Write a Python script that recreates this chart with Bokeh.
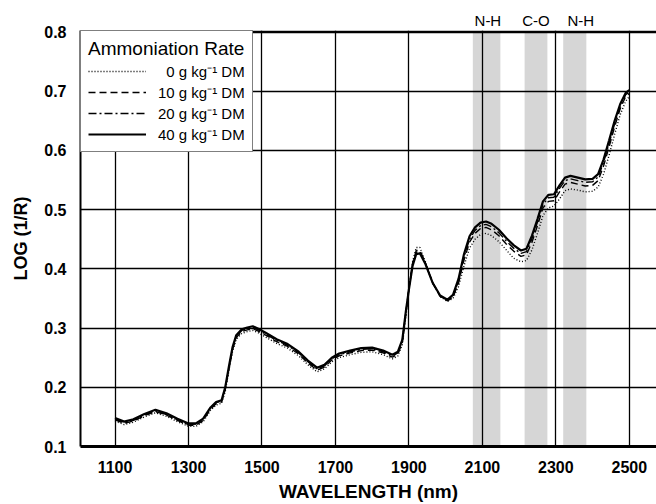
from bokeh.plotting import figure
from bokeh.models import FixedTicker, Legend, LegendItem, Range1d, LinearAxis, Span
from bokeh.embed import file_html
from bokeh.resources import INLINE

# ---------------- data ----------------
wavelength = [1100, 1125, 1150, 1180, 1210, 1240, 1270, 1300,
              1320, 1340, 1360, 1375, 1390,
              1400, 1410, 1420, 1430, 1445, 1460, 1475, 1490,
              1510, 1540, 1570, 1600, 1625, 1650, 1670, 1690,
              1710, 1740, 1770, 1800, 1830, 1855, 1870, 1882, 1892,
              1900, 1910, 1920, 1930, 1945, 1965, 1985,
              2005, 2020, 2035, 2050, 2065, 2080, 2095,
              2110, 2125, 2145, 2165, 2185,
              2205, 2220, 2235, 2250, 2265, 2280, 2295,
              2310, 2325, 2340, 2360, 2380,
              2400, 2415, 2430, 2445, 2460, 2475, 2490, 2500]

rate_0 = [.143, .137, .141, .150, .157, .151, .142, .134,
          .134, .142, .161, .170, .173,
          .193, .228, .261, .281, .291, .294, .296, .292,
          .285, .274, .266, .253, .238, .226, .231, .243,
          .250, .255, .259, .260, .255, .248, .253, .272, .320,
          .366, .412, .436, .436, .412, .376, .353,
          .345, .350, .370, .405, .435, .450, .458,
          .460, .456, .446, .432, .418,
          .412, .414, .432, .460, .490, .503, .506,
          .518, .532, .535, .533, .530,
          .531, .538, .560, .592, .627, .660, .683, .691]

rate_10 = [.145, .139, .143, .152, .159, .153, .144, .136,
           .136, .144, .163, .172, .175,
           .196, .231, .264, .284, .294, .297, .299, .295,
           .288, .277, .269, .256, .241, .229, .234, .246,
           .253, .258, .262, .263, .258, .251, .256, .276, .326,
           .367, .409, .431, .431, .410, .376, .354,
           .346, .352, .376, .415, .445, .460, .468,
           .470, .466, .456, .442, .430,
           .421, .424, .445, .473, .503, .514, .515,
           .530, .543, .546, .543, .540,
           .541, .549, .574, .606, .640, .670, .691, .696]

rate_20 = [.146, .140, .144, .153, .160, .154, .145, .137,
           .138, .146, .165, .174, .177,
           .198, .233, .266, .286, .296, .299, .301, .297,
           .290, .279, .271, .258, .243, .231, .236, .248,
           .255, .260, .264, .265, .260, .253, .258, .278, .328,
           .366, .407, .428, .429, .409, .376, .354,
           .347, .354, .379, .420, .450, .465, .473,
           .475, .471, .461, .447, .435,
           .426, .429, .451, .479, .509, .520, .521,
           .536, .549, .552, .549, .546,
           .547, .555, .580, .612, .645, .674, .694, .699]

rate_40 = [.148, .142, .146, .155, .162, .156, .147, .139,
           .139, .147, .166, .175, .178,
           .200, .235, .268, .288, .298, .301, .303, .299,
           .292, .281, .273, .260, .245, .233, .238, .250,
           .257, .262, .266, .267, .262, .255, .260, .280, .330,
           .365, .405, .425, .426, .408, .376, .355,
           .348, .356, .383, .425, .455, .470, .478,
           .480, .476, .466, .452, .440,
           .431, .434, .456, .484, .514, .525, .526,
           .541, .554, .557, .554, .551,
           .552, .560, .585, .617, .650, .678, .697, .702]

series_labels = ["\u20070 g kg\u207b\u00b9 DM", "10 g kg\u207b\u00b9 DM",
                 "20 g kg\u207b\u00b9 DM", "40 g kg\u207b\u00b9 DM"]

band_left = [2074, 2215, 2320]
band_right = [2149, 2277, 2383]
band_label_x = [2115, 2246, 2368]
band_labels = ["N-H", "C-O", "N-H"]

x_ticks = [1100, 1300, 1500, 1700, 1900, 2100, 2300, 2500]
y_ticks = [0.1, 0.2, 0.3, 0.4, 0.5, 0.6, 0.7, 0.8]
x_title = "WAVELENGTH (nm)"
y_title = "LOG (1/R)"
legend_title = "Ammoniation Rate"

FONT = "Liberation Sans"
X0, X1 = 1006, 2574
Y0, Y_TOP = 0.1, 0.8
Y1 = 0.8025  # tiny headroom so the top border line is fully visible

# ---------------- figure ----------------
p = figure(width=656, height=504,
           x_range=Range1d(X0, X1), y_range=Range1d(Y0, Y1),
           output_backend="svg", toolbar_location=None,
           min_border_left=80, min_border_right=0,
           min_border_top=30, min_border_bottom=57)
p.outline_line_color = None
p.background_fill_color = "white"
p.border_fill_color = "white"

# shaded absorption bands
p.quad(left=band_left, right=band_right, bottom=Y0, top=Y_TOP,
       fill_color="#d6d6d6", line_color=None, level="underlay")

# grid
p.xgrid.ticker = FixedTicker(ticks=x_ticks)
p.ygrid.ticker = FixedTicker(ticks=y_ticks)
for g in (p.xgrid, p.ygrid):
    g.grid_line_color = "black"
    g.grid_line_width = 1.3
    g.level = "glyph"
p.xgrid.bounds = (Y0, Y_TOP)

# top border of the plot box
p.add_layout(Span(location=Y_TOP, dimension="width", line_color="black",
                  line_width=2.5))

# curves
styles = [("1 2", 1.4), ("7 4", 1.4), ("8 3 2 3", 1.4), ("solid", 2.2)]
series = [rate_0, rate_10, rate_20, rate_40]
items = []
for vals, lab, (dash, lw) in zip(series, series_labels, styles):
    r = p.line(wavelength, vals, line_color="black", line_width=lw, line_dash=dash)
    items.append(LegendItem(label=lab, renderers=[r]))

# axes
p.xaxis.ticker = FixedTicker(ticks=x_ticks)
p.yaxis.ticker = FixedTicker(ticks=y_ticks)
p.xaxis.axis_label = x_title
p.yaxis.axis_label = y_title
for ax in (p.xaxis[0], p.yaxis[0]):
    ax.major_tick_line_color = None
    ax.minor_tick_line_color = None
    ax.major_tick_out = 0
    ax.major_tick_in = 0
    ax.minor_tick_out = 0
    ax.minor_tick_in = 0
    ax.axis_line_color = "black"
    ax.major_label_text_font = FONT
    ax.major_label_text_font_style = "bold"
    ax.major_label_text_font_size = "16px"
    ax.major_label_text_color = "black"
    ax.axis_label_text_font = FONT
    ax.axis_label_text_font_style = "bold"
    ax.axis_label_text_color = "black"
p.xaxis.axis_line_width = 3
p.yaxis.axis_line_width = 2
p.xaxis.major_label_standoff = 14
p.xaxis.axis_label_standoff = 5
p.xaxis.axis_label_text_font_size = "19px"
p.yaxis.major_label_standoff = 14
p.yaxis.axis_label_standoff = 10
p.yaxis.axis_label_text_font_size = "18px"

# band names above the frame
top_axis = LinearAxis(ticker=FixedTicker(ticks=band_label_x),
                      major_label_overrides={x: t for x, t in zip(band_label_x, band_labels)},
                      axis_line_color=None,
                      major_tick_line_color=None, minor_tick_line_color=None,
                      major_tick_out=0, major_tick_in=0,
                      minor_tick_out=0, minor_tick_in=0,
                      major_label_text_font=FONT, major_label_text_font_size="15px",
                      major_label_text_color="black", major_label_standoff=2)
p.add_layout(top_axis, "above")

legend = Legend(items=items, location="top_left", margin=0, padding=7,
                spacing=1, label_height=18, glyph_height=18, glyph_width=58,
                label_standoff=12, title=legend_title,
                title_text_font=FONT, title_text_font_size="19px",
                title_text_font_style="normal", title_text_color="black",
                title_standoff=1,
                label_text_font=FONT, label_text_font_size="15px",
                label_text_color="black",
                border_line_color="black", border_line_width=1.5,
                background_fill_color="white", background_fill_alpha=1.0)
p.add_layout(legend)

open("out.html", "w").write(file_html(p, INLINE))
